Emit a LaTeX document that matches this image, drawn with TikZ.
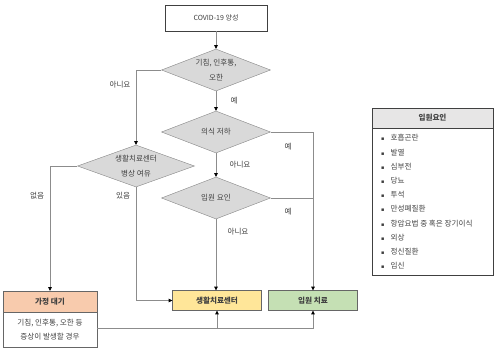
\documentclass[tikz,border=0pt]{standalone}
\usepackage{fontspec}
\setmainfont{Noto Sans CJK KR}
\newfontfamily\bulletfont{DejaVu Sans}
\usetikzlibrary{shapes.geometric, arrows.meta, positioning}

\definecolor{linegray}{HTML}{8C8C8C}
\definecolor{txtgray}{HTML}{404040}
\definecolor{diafill}{HTML}{D9D9D9}
\definecolor{diadraw}{HTML}{A6A6A6}
\definecolor{homefill}{HTML}{F8CBAD}
\definecolor{centerfill}{HTML}{FFE699}
\definecolor{hospfill}{HTML}{C5E0B4}
\definecolor{legendfill}{HTML}{E7E6E6}

\tikzset{
    base/.style={font=\fontsize{7.6}{14.5}\selectfont, text=txtgray},
    decision/.style={base, diamond, draw=diadraw!80!black, fill=diafill, aspect=2.6,
        minimum width=109pt, minimum height=42pt, inner sep=0pt, align=center},
    resultbox/.style={base, rectangle, draw=txtgray!80, minimum width=89pt,
        minimum height=20pt, inner sep=0pt, font=\fontsize{7.6}{14.5}\selectfont\bfseries},
    answer/.style={base, inner sep=1pt},
    flow/.style={draw=linegray, line width=0.7pt,
        -{Triangle[width=3.6pt, length=3.6pt, color=black]}},
    link/.style={draw=linegray, line width=0.7pt},
    item/.style={base, anchor=west, inner sep=0pt}
}

\begin{document}
\begin{tikzpicture}[x=1pt, y=-1pt]
    \useasboundingbox (0,0) rectangle (500,351);

    % flow chart
    \node[base, rectangle, draw=txtgray, minimum width=102pt, minimum height=26pt, font=\fontsize{7}{14}\selectfont] (start) at (216,18) {COVID-19 양성};
    \node[decision] (symptom) at (216,70) {기침, 인후통,\\오한};
    \node[decision] (conscious) at (216,132) {의식 저하};
    \node[decision] (factor) at (216,198) {입원 요인};
    \node[decision, minimum width=117pt] (bed) at (136,166) {생활치료센터\\병상 여유};

    \node[resultbox, fill=homefill, minimum width=94pt, minimum height=21pt] (homehead) at (50,301.5) {가정 대기};
    \node[base, rectangle, draw=txtgray!80, minimum width=94pt, minimum height=35pt, inner sep=0pt, align=center] (homebody) at (50,329.5) {기침, 인후통, 오한 등\\증상이 발생할 경우};
    \node[resultbox, fill=centerfill] (center) at (217,300.5) {생활치료센터};
    \node[resultbox, fill=hospfill] (hosp) at (313,300.5) {입원 치료};

    \coordinate (nobend) at (136,70);
    \coordinate (yes1) at (313,132);
    \coordinate (yes2) at (313,198);
    \coordinate (fullbend) at (50,166);
    \coordinate (freebend) at (136,300.5);
    \coordinate (backsplit) at (217,328);
    \coordinate (backend) at (313,328);

    \draw[flow] (start) -- (symptom);
    \draw[flow] (symptom) -- (conscious);
    \draw[flow] (symptom.west) -- (nobend) -- (bed);
    \draw[flow] (conscious) -- (factor);
    \draw[link] (conscious.east) -- (yes1);
    \draw[link] (factor.east) -- (yes2);
    \draw[flow] (yes1) -- (hosp);
    \draw[flow] (factor) -- (center.north -| factor);
    \draw[flow] (bed.west) -- (fullbend) -- (homehead);
    \draw[flow] (bed.south) -- (freebend) -- (center);
    \draw[flow] (homebody.east |- backsplit) -- (backsplit) -- (center);
    \draw[flow] (backsplit) -- (backend) -- (hosp);

    \node[answer] at (234,101) {예};
    \node[answer] at (120,85) {아니요};
    \node[answer] at (288,147) {예};
    \node[answer] at (240,165) {아니요};
    \node[answer] at (288,212) {예};
    \node[answer] at (238,232) {아니요};
    \node[answer] at (37,196) {없음};
    \node[answer] at (123,196) {있음};

    % legend
    \node[base, rectangle, draw=txtgray, minimum width=121pt, minimum height=167pt, inner sep=0pt] (legend) at (432.5,191.5) {};
    \node[base, rectangle, draw=txtgray, fill=legendfill, minimum width=121pt, minimum height=20pt, inner sep=0pt, font=\fontsize{7.6}{14}\selectfont\bfseries] (legendhead) at (432.5,118) {입원요인};
    \node[item] (f1) at (381,138) {{\bulletfont\tiny ▪}\hspace{6pt}호흡곤란};
    \node[item] (f2) at (381,152.2) {{\bulletfont\tiny ▪}\hspace{6pt}발열};
    \node[item] (f3) at (381,166.4) {{\bulletfont\tiny ▪}\hspace{6pt}심부전};
    \node[item] (f4) at (381,180.6) {{\bulletfont\tiny ▪}\hspace{6pt}당뇨};
    \node[item] (f5) at (381,194.8) {{\bulletfont\tiny ▪}\hspace{6pt}투석};
    \node[item] (f6) at (381,209) {{\bulletfont\tiny ▪}\hspace{6pt}만성폐질환};
    \node[item] (f7) at (381,223.2) {{\bulletfont\tiny ▪}\hspace{6pt}항암요법 중 혹은 장기이식};
    \node[item] (f8) at (381,237.4) {{\bulletfont\tiny ▪}\hspace{6pt}외상};
    \node[item] (f9) at (381,251.6) {{\bulletfont\tiny ▪}\hspace{6pt}정신질환};
    \node[item] (f10) at (381,265.8) {{\bulletfont\tiny ▪}\hspace{6pt}임신};
\end{tikzpicture}
\end{document}
